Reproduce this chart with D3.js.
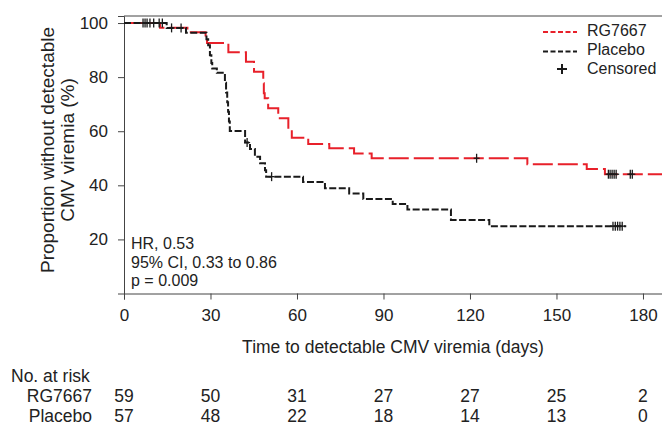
<!DOCTYPE html>
<html>
<head>
<meta charset="utf-8">
<script src="https://cdn.jsdelivr.net/npm/d3@7"></script>
<style>
  body { margin: 0; background: #fff; }
  svg { display: block; font-family: "Liberation Sans", Arial, sans-serif; }
</style>
</head>
<body>
<div id="chart"></div>
<script>
// x axis ticks and numbers at risk
const tickDays = [0, 30, 60, 90, 120, 150, 180];
const yTicks = [20, 40, 60, 80, 100];
const riskRG = [59, 50, 31, 27, 27, 25, 2];
const riskPlacebo = [57, 48, 22, 18, 14, 13, 0];

// RG7667 step curve (event times in days, survival in %)
const rgTime = [12.5, 22, 28.3, 28.8, 36.2, 42.3, 45.1, 48.3, 48.5, 48.8, 50.0, 53.5, 57.0, 58.2, 63.9, 71.2, 79.8, 85.9, 139.9, 160.5, 166.8];
const rgSurv = [98.3, 96.6, 94.9, 92.6, 89.2, 85.7, 82.0, 77.7, 74.0, 72.2, 68.5, 64.8, 60.4, 57.6, 55.3, 53.7, 51.8, 50.0, 47.8, 46.0, 44.1];
const rgCensored = [122.3, 168.0, 168.6, 169.3, 170.0, 170.7, 175.6, 176.3];
const rgLast = 192;

// Placebo step curve
const plTime = [14.8, 21.5, 28.6, 29.2, 29.8, 30.3, 30.6, 32.2, 35.0, 35.4, 35.8, 36.1, 36.4, 36.7, 42.0, 43.7, 45.4, 47.2, 48.9, 49.3, 62.1, 69.7, 78.1, 83.0, 93.2, 98.3, 113.4, 126.7];
const plSurv = [98.2, 96.4, 94.0, 91.8, 88.1, 85.2, 83.2, 81.6, 77.9, 74.3, 70.7, 67.2, 63.6, 60.1, 55.8, 53.4, 50.6, 48.2, 45.6, 43.2, 41.2, 38.9, 37.0, 34.9, 33.1, 31.1, 27.2, 24.9];
const plCensored = [6.6, 7.3, 8.0, 9.0, 10.3, 12.2, 13.3, 16.5, 19.8, 42.7, 51.2, 169.6, 170.4, 171.2, 172.0, 172.8];
const plLast = 174.2;

const W = 662, H = 427;
const red = "#e8202a", black = "#1a1a1a", axisCol = "#444";

const svg = d3.select("#chart").append("svg")
    .attr("width", W)
    .attr("height", H);

// Scales
const x = d3.scaleLinear().domain([0, 186.6]).range([124, 662]);
const y = d3.scaleLinear().domain([0, 102.6]).range([293.5, 16]);

// step helpers
function stepPoints(times, surv, last) {
    const pts = [[0, 100]];
    times.forEach((t, i) => pts.push([t, surv[i]]));
    pts.push([last, surv[surv.length - 1]]);
    return pts;
}
function survAt(times, surv, t) {
    let s = 100;
    times.forEach((tt, i) => { if (tt <= t) s = surv[i]; });
    return s;
}

const line = d3.line()
    .x(d => x(d[0]))
    .y(d => y(d[1]))
    .curve(d3.curveStepAfter);

// Top border
svg.append("line")
    .attr("x1", x.range()[0]).attr("x2", x.range()[1])
    .attr("y1", y.range()[1]).attr("y2", y.range()[1])
    .attr("stroke", axisCol)
    .attr("stroke-width", 1);

// X axis
const xAxis = svg.append("g")
    .attr("transform", `translate(0,${y(0)})`)
    .call(d3.axisBottom(x).tickValues(tickDays).tickSizeOuter(0).tickSize(6).tickPadding(9));
xAxis.selectAll("text").style("font-size", "17px").attr("fill", "#222");

// Y axis
const yAxis = svg.append("g")
    .attr("transform", `translate(${x(0)},0)`)
    .call(d3.axisLeft(y).tickValues(yTicks).tickSizeOuter(0).tickSize(6).tickPadding(10));
yAxis.selectAll("text").style("font-size", "17px").attr("fill", "#222");

svg.selectAll(".domain, .tick line").attr("stroke", axisCol);

// Curves
svg.append("path")
    .datum(stepPoints(rgTime, rgSurv, rgLast))
    .attr("d", line)
    .attr("fill", "none")
    .attr("stroke", red)
    .attr("stroke-width", 2)
    .attr("stroke-dasharray", "20,5");

svg.append("path")
    .datum(stepPoints(plTime, plSurv, plLast))
    .attr("d", line)
    .attr("fill", "none")
    .attr("stroke", black)
    .attr("stroke-width", 2)
    .attr("stroke-dasharray", "7,2.5");

// Censored marks
function drawCensored(times, evT, evS) {
    const g = svg.append("g");
    times.forEach(t => {
        const cx = x(t), cy = y(survAt(evT, evS, t));
        g.append("line").attr("x1", cx).attr("x2", cx).attr("y1", cy - 4.5).attr("y2", cy + 4.5)
            .attr("stroke", black).attr("stroke-width", 1.3);
        g.append("line").attr("x1", cx - 3).attr("x2", cx + 3).attr("y1", cy).attr("y2", cy)
            .attr("stroke", black).attr("stroke-width", 1.3);
    });
}
drawCensored(rgCensored, rgTime, rgSurv);
drawCensored(plCensored, plTime, plSurv);

// Y axis label
const yLab = svg.append("text")
    .attr("transform", "translate(54,150) rotate(-90)")
    .attr("text-anchor", "middle")
    .style("font-size", "19px")
    .attr("fill", "#222");
yLab.append("tspan").attr("x", 0).attr("y", 0).text("Proportion without detectable");
yLab.append("tspan").attr("x", 0).attr("y", 20).text("CMV viremia (%)");

// X axis label
svg.append("text")
    .attr("x", (x.range()[0] + x.range()[1]) / 2)
    .attr("y", 353)
    .attr("text-anchor", "middle")
    .style("font-size", "17.5px")
    .attr("fill", "#222")
    .text("Time to detectable CMV viremia (days)");

// Stats annotation
const stats = ["HR, 0.53", "95% CI, 0.33 to 0.86", "p = 0.009"];
stats.forEach((s, i) => {
    svg.append("text")
        .attr("x", 131)
        .attr("y", 249 + i * 18.7)
        .style("font-size", "16px")
        .attr("fill", "#222")
        .text(s);
});

// Legend
const legend = svg.append("g").attr("transform", "translate(543,0)");
[["RG7667", red, 32, 35.5], ["Placebo", black, 51.5, 54.5]].forEach(([name, col, ly, ty]) => {
    legend.append("line")
        .attr("x1", 0).attr("x2", 34).attr("y1", ly).attr("y2", ly)
        .attr("stroke", col).attr("stroke-width", 2)
        .attr("stroke-dasharray", "5,2.5");
    legend.append("text")
        .attr("x", 44).attr("y", ty)
        .style("font-size", "16px").attr("fill", "#222")
        .text(name);
});
legend.append("line").attr("x1", 19).attr("x2", 19).attr("y1", 64).attr("y2", 74)
    .attr("stroke", black).attr("stroke-width", 2);
legend.append("line").attr("x1", 14).attr("x2", 24).attr("y1", 69).attr("y2", 69)
    .attr("stroke", black).attr("stroke-width", 2);
legend.append("text")
    .attr("x", 44).attr("y", 73.5)
    .style("font-size", "16px").attr("fill", "#222")
    .text("Censored");

// Numbers at risk
svg.append("text")
    .attr("x", 11).attr("y", 381.5)
    .style("font-size", "17.5px").attr("fill", "#222")
    .text("No. at risk");

[["RG7667", riskRG, 401.5], ["Placebo", riskPlacebo, 421.5]].forEach(([name, vals, ry]) => {
    svg.append("text")
        .attr("x", 92).attr("y", ry)
        .attr("text-anchor", "end")
        .style("font-size", "17.5px").attr("fill", "#222")
        .text(name);
    svg.append("g").selectAll("text")
        .data(vals)
        .enter()
        .append("text")
        .attr("x", (d, i) => x(tickDays[i]))
        .attr("y", ry)
        .attr("text-anchor", "middle")
        .style("font-size", "17.5px").attr("fill", "#222")
        .text(d => d);
});
</script>
</body>
</html>
